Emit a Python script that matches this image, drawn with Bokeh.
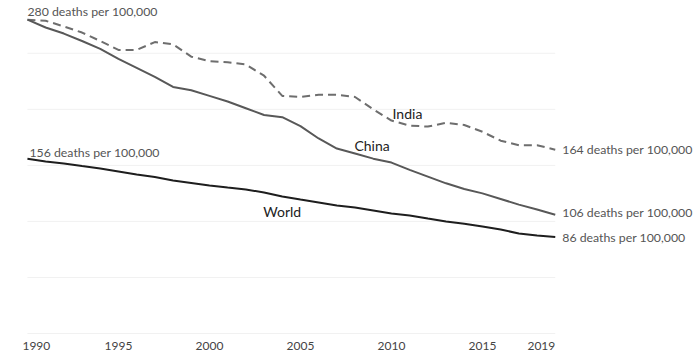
from bokeh.plotting import figure
from bokeh.models import ColumnDataSource, Range1d
from bokeh.core.properties import value
from bokeh.embed import file_html
from bokeh.resources import INLINE

years = list(range(1990, 2020))
india = [280, 279, 274, 268.5, 261, 253, 253, 260, 258, 247,
         243, 242, 240, 230, 212, 211, 213, 213, 211, 200,
         190, 185.5, 184.6, 188, 186, 180, 172, 168, 168, 164]
china = [280, 273, 267.6, 261, 254, 245, 237, 229, 220, 217,
         212, 207, 201, 195, 193, 185, 174, 165, 160.6, 156,
         152.5, 146, 140, 134, 129, 125, 120, 115, 110.6, 106]
world = [156, 153.4, 151.7, 149.4, 147.2, 144.5, 141.8, 139.6, 136.5, 134.3,
         132, 130.2, 128.5, 125.8, 122.2, 119.5, 116.9, 114.2, 112.4, 109.7,
         107, 105.3, 102.6, 100, 98, 95.5, 92.8, 89.2, 87.4, 86]
grid_values = [0, 50, 100, 150, 200, 250]
tick_years = [1990, 1995, 2000, 2005, 2010, 2015, 2019]
tick_labels = ["1990", "1995", "2000", "2005", "2010", "2015", "2019"]

FONT = "Lato"

p = figure(width=700, height=357, output_backend="svg", toolbar_location=None,
           x_range=Range1d(1988.52, 2026.98), y_range=Range1d(-21.4, 297.1),
           min_border=0, outline_line_color=None)
p.axis.visible = False
p.grid.visible = False
p.background_fill_color = "white"
p.border_fill_color = "white"

# faint grid lines spanning the data range
p.segment(x0=[years[0]] * len(grid_values), x1=[years[-1]] * len(grid_values),
          y0=grid_values, y1=grid_values, line_color="#f1f1f1", line_width=1)

p.line(years, india, line_color="#6e6e6e", line_width=2, line_dash="8 5")
p.line(years, china, line_color="#585858", line_width=2)
p.line(years, world, line_color="#1e1e1e", line_width=2)

# year labels
aligns = ["left"] + ["center"] * (len(tick_years) - 2) + ["right"]
xoffs = [-5] + [0] * (len(tick_years) - 2) + [0]
tsrc = ColumnDataSource(dict(x=tick_years, y=[0] * len(tick_years), t=tick_labels,
                             a=aligns, xo=xoffs))
p.text(x="x", y="y", text="t", text_align="a", x_offset="xo", y_offset=12,
       text_baseline="middle", text_font=value(FONT), text_font_size="12px",
       text_color="#444444", source=tsrc)

LBL = "12.3px"
# start labels
p.text(x=[years[0]], y=[india[0]], text=["280 deaths per 100,000"], text_align="left",
       text_baseline="middle", y_offset=-8, text_font=value(FONT), text_font_size=LBL,
       text_color="#555555")
p.text(x=[years[0]], y=[world[0]], text=["156 deaths per 100,000"], text_align="left",
       text_baseline="middle", x_offset=2, y_offset=-6, text_font=value(FONT),
       text_font_size=LBL, text_color="#555555")

# end labels
p.text(x=[years[-1]] * 3, y=[india[-1], china[-1], world[-1]],
       text=["164 deaths per 100,000", "106 deaths per 100,000", "86 deaths per 100,000"],
       text_align="left", text_baseline="middle", x_offset=7, y_offset=[0, -2, 0],
       text_font=value(FONT), text_font_size=LBL, text_color="#555555")

# series names
i10 = years.index(2010)
c08 = years.index(2008)
w04 = years.index(2004)
p.text(x=[years[i10], years[c08], years[w04]], y=[india[i10], china[c08], world[w04]],
       text=["India", "China", "World"], text_align="center", text_baseline="middle",
       x_offset=[16, 17, 0], y_offset=[-7, -8, 15],
       text_font=value(FONT), text_font_size="14px", text_color="#222222")

open("out.html", "w").write(file_html(p, INLINE))
